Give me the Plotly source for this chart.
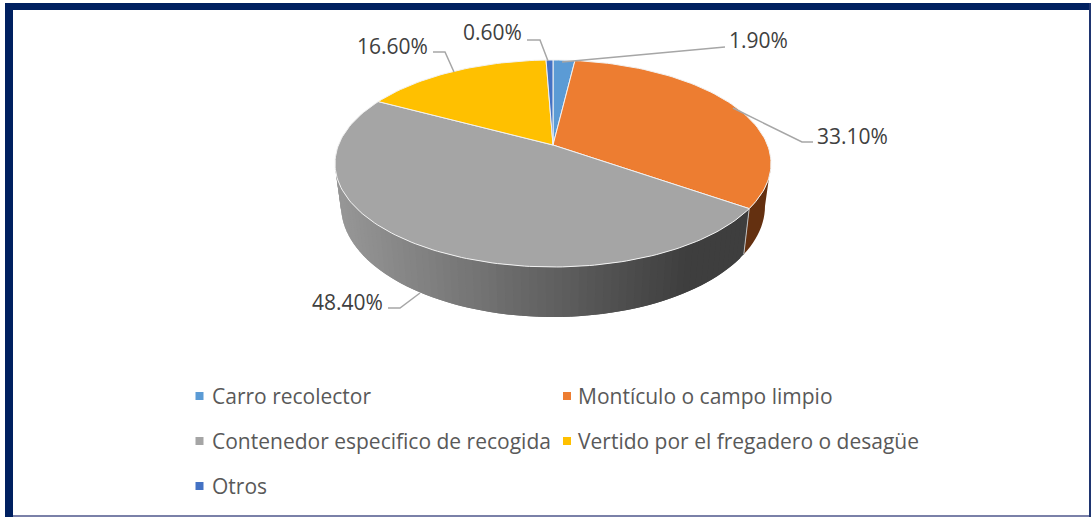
import math
import plotly.graph_objects as go

categories = ["Carro recolector", "Montículo o campo limpio", "Contenedor especifico de recogida",
              "Vertido por el fregadero o desagüe", "Otros"]
values = [1.9, 33.1, 48.4, 16.6, 0.6]
value_labels = ["1.90%", "33.10%", "48.40%", "16.60%", "0.60%"]
colors = ["#5B9BD5", "#ED7D31", "#A5A5A5", "#FFC000", "#4472C4"]
side_colors = ["#2F5C85", "#643010", None, "#8A6800", "#264478"]

W, H = 1091, 517
APEX = (553, 145)
TOP = dict(cx=553, cy=163.5, rx=218, ry=103.5)
BOT = dict(cx=553, cy=206, rx=212, ry=111)
TILT = 100 / 218

label_pos = [(727, 40), (815, 136), (310, 302), (355, 46), (461, 32)]
leaders = [[(562, 62), (723, 47), (725, 47)],
           [(733, 108), (802, 142), (813, 142)],
           [(420, 293), (400, 308), (388, 308)],
           [(454, 72), (445, 52), (433, 52)],
           [(548, 61), (540, 40), (527, 40)]]
legend_text_pos = [(210, 396), (576, 396), (210, 441), (576, 441), (210, 486)]
legend_key_x = [199.5, 567, 199.5, 567, 199.5]


def edge_param(theta):
    """Elliptic parameter of the rim point for a slice boundary at angle theta."""
    ox, oy = (APEX[0] - TOP["cx"]) / TOP["rx"], (APEX[1] - TOP["cy"]) / TOP["ry"]
    dx, dy = math.sin(theta) / TILT / TOP["rx"], -math.cos(theta) / TOP["ry"]
    a = dx * dx + dy * dy
    b = 2 * (ox * dx + oy * dy)
    c = ox * ox + oy * oy - 1
    s = (-b + math.sqrt(b * b - 4 * a * c)) / (2 * a)
    return math.atan2(ox + s * dx, -(oy + s * dy)) % (2 * math.pi)


def rim(e, t):
    return e["cx"] + e["rx"] * math.sin(t), e["cy"] - e["ry"] * math.cos(t)


def grey_shade(t):
    # dark on the right, lighter on the left of the front wall
    f = max(0.0, min(1.0, (rim(TOP, t)[0] - 340) / 400))
    f = min(1.0, f * 1.15)
    v = int(round(150 + (62 - 150) * f))
    return f"rgb({v},{v},{v})"


fig = go.Figure()

# cumulative slice boundaries
total = sum(values)
bounds = [0.0]
for v in values:
    bounds.append(bounds[-1] + v / total * 2 * math.pi)
params = [edge_param(b % (2 * math.pi)) for b in bounds[:-1]] + [2 * math.pi]
params[0] = 0.0

# side wall, drawn as overlapping strips so no seams show
for i in range(len(values)):
    t0, t1 = params[i], params[i + 1]
    lo, hi = max(t0, math.pi / 2), min(t1, 3 * math.pi / 2)
    if hi <= lo:
        continue
    n = 70 if side_colors[i] is None else 1
    for k in range(n):
        a, b = lo + (hi - lo) * k / n, lo + (hi - lo) * (k + 1) / n
        if side_colors[i] is None:
            b = min(hi, b + (hi - lo) / n)
            arc = [a, b]
        else:
            arc = [a + (b - a) * j / 12 for j in range(13)]
        pts = [rim(TOP, u) for u in arc] + [rim(BOT, u) for u in reversed(arc)]
        col = side_colors[i] or grey_shade(a + (hi - lo) / n / 2)
        fig.add_trace(go.Scatter(x=[p[0] for p in pts], y=[p[1] for p in pts], mode="none",
                                 fill="toself", fillcolor=col,
                                 hoverinfo="skip", showlegend=False))

# thin divider between grey and orange walls
split = params[2]
fig.add_trace(go.Scatter(x=[rim(TOP, split)[0], rim(BOT, split)[0]], y=[rim(TOP, split)[1], rim(BOT, split)[1]],
                         mode="lines", line=dict(color="#BFBFBF", width=1), hoverinfo="skip", showlegend=False))

# top faces
for i, name in enumerate(categories):
    t0, t1 = params[i], params[i + 1]
    n = max(4, int((t1 - t0) * 40))
    pts = [APEX] + [rim(TOP, t0 + (t1 - t0) * k / n) for k in range(n + 1)] + [APEX]
    fig.add_trace(go.Scatter(x=[p[0] for p in pts], y=[p[1] for p in pts], mode="lines",
                             fill="toself", fillcolor=colors[i], line=dict(color="#F2F2F2", width=1),
                             name=name, text=value_labels[i], hoverinfo="name+text", showlegend=False))

# leader lines
for ln in leaders:
    fig.add_trace(go.Scatter(x=[p[0] for p in ln], y=[p[1] for p in ln], mode="lines",
                             line=dict(color="#A6A6A6", width=1.5), hoverinfo="skip", showlegend=False))

annotations = []
for txt, (x, y) in zip(value_labels, label_pos):
    annotations.append(dict(x=x, y=y, xref="x", yref="y", text=txt, showarrow=False, xanchor="left",
                            yanchor="middle", font=dict(family="Open Sans", size=21, color="#404040")))
shapes = []
for name, col, (x, y), kx in zip(categories, colors, legend_text_pos, legend_key_x):
    annotations.append(dict(x=x, y=y, xref="x", yref="y", text=name, showarrow=False, xanchor="left",
                            yanchor="middle", font=dict(family="Open Sans", size=21, color="#595959")))
    shapes.append(dict(type="rect", xref="x", yref="y", x0=kx - 4, x1=kx + 4, y0=y - 4, y1=y + 4,
                       fillcolor=col, line=dict(width=0)))

# outer frame
frame = [(5, 3, W, 10, "#002060"), (5, 3, 13, H, "#002060"),
         (1089, 3, W, H, "#1F3570"), (13, 515, 1089, H, "#7A80A8")]
for x0, y0, x1, y1, c in frame:
    shapes.append(dict(type="rect", xref="x", yref="y", x0=x0, x1=x1, y0=y0, y1=y1,
                       fillcolor=c, line=dict(width=0)))

fig.update_layout(width=W, height=H, margin=dict(l=0, r=0, t=0, b=0), paper_bgcolor="white",
                  plot_bgcolor="white", showlegend=False, annotations=annotations, shapes=shapes,
                  xaxis=dict(range=[0, W], visible=False, fixedrange=True),
                  yaxis=dict(range=[H, 0], visible=False, fixedrange=True))
fig.write_html("out.html", config=dict(displayModeBar=False),
               post_script="document.body.style.margin='0';document.body.style.overflow='hidden';")
